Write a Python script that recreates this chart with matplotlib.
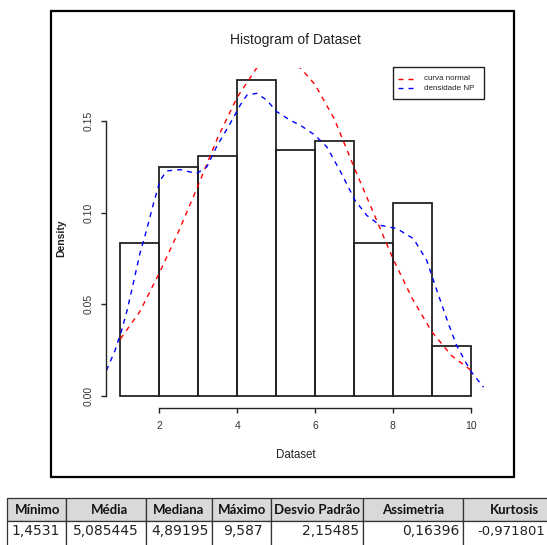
import matplotlib
matplotlib.use("Agg")
import matplotlib.pyplot as plt
from matplotlib.patches import Rectangle

# histogram (density per unit bin)
breaks = [1, 2, 3, 4, 5, 6, 7, 8, 9, 10]
density = [0.0834, 0.125, 0.131, 0.1724, 0.134, 0.139, 0.0834, 0.1055, 0.0274]

# red dashed normal curve
normal_x = [1.0, 1.5, 2.0, 2.5, 3.0, 3.5, 4.0, 4.5, 5.0, 5.5, 6.0, 6.5,
            7.0, 7.5, 8.0, 8.5, 9.0, 9.5, 10.0]
normal_y = [0.031, 0.046, 0.067, 0.090, 0.115, 0.141, 0.163, 0.179, 0.185,
            0.182, 0.170, 0.151, 0.125, 0.100, 0.075, 0.053, 0.035, 0.022, 0.014]

# blue dashed kernel density
np_x = [0.64, 0.86, 1.03, 1.16, 1.29, 1.50, 1.67, 1.85, 2.02, 2.19, 2.53, 2.96,
        3.22, 3.47, 3.82, 4.08, 4.25, 4.50, 4.76, 5.02, 5.36, 5.62, 6.00, 6.30,
        6.64, 7.03, 7.33, 7.67, 8.10, 8.53, 8.87, 9.13, 9.43, 9.64, 9.99, 10.33]
np_y = [0.0137, 0.0246, 0.0356, 0.0456, 0.0575, 0.0776, 0.0903, 0.105, 0.1177,
        0.1228, 0.1235, 0.1214, 0.125, 0.136, 0.1487, 0.1588, 0.1642, 0.1652,
        0.1615, 0.1551, 0.1505, 0.1478, 0.1423, 0.136, 0.123, 0.1067, 0.0985,
        0.0931, 0.0913, 0.0858, 0.0739, 0.0575, 0.0392, 0.0274, 0.0137, 0.0046]

x_ticks = [2, 4, 6, 8, 10]
y_ticks = [0.00, 0.05, 0.10, 0.15]
y_tick_labels = ["0.00", "0.05", "0.10", "0.15"]

legend_labels = ["curva normal", "densidade NP"]

# summary table
headers = ["Mínimo", "Média", "Mediana", "Máximo", "Desvio Padrão", "Assimetria", "Kurtosis"]
values = ["1,4531", "5,085445", "4,89195", "9,587", "2,15485", "0,16396", "-0,971801"]

W, H = 547, 545
fig = plt.figure(figsize=(W / 100, H / 100), dpi=100)
fig.patch.set_facecolor("white")

# plot region in pixels: x 106.4..484.7, y 67.5..408.3
ax = fig.add_axes([106.4 / W, 1 - 408.3 / H, (484.7 - 106.4) / W, (408.3 - 67.5) / H])
ax.set_zorder(1)
dash = (0, (3.6, 3.6))

ax.bar(breaks[:-1], density, width=1, align="edge", fill=False,
       edgecolor="#222222", linewidth=1.3)
ax.plot(normal_x, normal_y, color="red", linewidth=1.0, linestyle=dash)
ax.plot(np_x, np_y, color="blue", linewidth=1.0, linestyle=dash)

ax.set_xlim(0.64, 10.36)
ax.set_ylim(-0.0069, 0.1793)
for s in ["top", "right"]:
    ax.spines[s].set_visible(False)
ax.spines["left"].set_bounds(0, 0.15)
ax.spines["bottom"].set_bounds(2, 10)
for s in ["left", "bottom"]:
    ax.spines[s].set_linewidth(1.0)
    ax.spines[s].set_color("#222222")
ax.set_xticks(x_ticks)
ax.set_xticklabels([str(t) for t in x_ticks])
ax.set_yticks(y_ticks)
ax.set_yticklabels(y_tick_labels, rotation=90, va="center")
ax.tick_params(direction="out", length=3.6, width=1.0, color="#222222",
               labelsize=7.5, labelcolor="#333333", pad=5.5)
for lab in ax.get_xticklabels() + ax.get_yticklabels():
    lab.set_family("Liberation Sans")

# overlay in pixel coordinates for frame, labels, legend and table
bg = fig.add_axes([0, 0, 1, 1])
bg.set_zorder(2)
bg.set_xlim(0, W)
bg.set_ylim(H, 0)
bg.axis("off")
bg.patch.set_alpha(0)

bg.add_patch(Rectangle((51, 11), 463, 465.7, fill=False, edgecolor="black", linewidth=1.6))
bg.text(295.5, 40, "Histogram of Dataset", ha="center", va="center",
        fontsize=10, family="Liberation Sans", color="#222222")
bg.text(295.5, 455, "Dataset", ha="center", va="center",
        fontsize=8.3, family="Liberation Sans", color="#222222")
bg.text(61.7, 238, "Density", ha="center", va="center", rotation=90,
        fontsize=7.5, family="Liberation Sans", fontweight="bold", color="#222222")

# legend
bg.add_patch(Rectangle((393, 67), 91, 32, facecolor="white", edgecolor="#222222", linewidth=1.0))
for yy, col, lab in zip([79, 88.3], ["red", "blue"], legend_labels):
    bg.plot([398, 415], [yy, yy], color=col, linewidth=1.0, linestyle=dash)
    bg.text(424, yy, lab, ha="left", va="center", fontsize=5.8,
            family="Liberation Sans", color="#222222")

# table
col_edges = [7, 66, 146, 212, 271, 363, 463, 570]
head_x = [38, 109, 179, 242, 317, 413, 514]
val_x = [35.5, 106, 180, 243, 331, 431, 545]
top, mid, bot = 498, 520.7, 546
for i in range(len(headers)):
    x0, x1 = col_edges[i], col_edges[i + 1]
    bg.add_patch(Rectangle((x0, top), x1 - x0, mid - top, facecolor="#d9d9d9",
                           edgecolor="#333333", linewidth=0.9))
    bg.add_patch(Rectangle((x0, mid), x1 - x0, bot - mid, facecolor="white",
                           edgecolor="#333333", linewidth=0.9))
    bg.text(head_x[i], 510, headers[i], ha="center", va="center", fontsize=9.5,
            family="Lato", fontweight="bold", color="#111111")
    last = i == len(headers) - 1
    bg.text(val_x[i], 531, values[i], ha="right" if last else "center", va="center",
            fontsize=9.5 if last else 10, family="DejaVu Sans", color="#222222")

fig.savefig("out.png", dpi=100)
